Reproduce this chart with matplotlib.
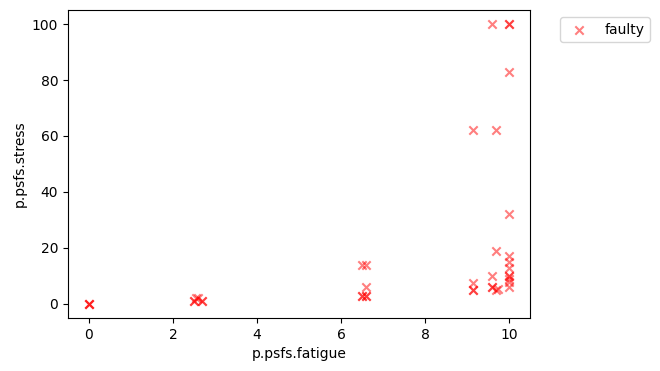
import matplotlib
matplotlib.use('Agg')
import matplotlib.pyplot as plt

# faulty runs: fatigue vs stress
fatigue = [0, 0, 0,
           2.5, 2.5, 2.7, 2.7, 2.6, 2.55,
           6.5, 6.6, 6.6, 6.5, 6.5, 6.6, 6.6,
           9.15, 9.15, 9.15, 9.15,
           9.6, 9.6, 9.6, 9.6,
           9.7, 9.7, 9.7, 9.75,
           10, 10, 10, 10, 10, 10, 10, 10, 10, 10, 10, 10]
stress = [0, 0, 0,
          1, 1, 1, 1, 2, 2,
          14, 14, 6, 3, 3, 3, 3,
          62, 7.5, 5, 5,
          100, 10, 6, 6,
          62, 19, 5, 5.5,
          100, 100, 83, 32, 17, 15, 13, 10, 10, 9, 8, 6]

fig, ax = plt.subplots(figsize=(6.6, 3.71), dpi=100)
fig.subplots_adjust(left=0.103, right=0.803, top=0.973, bottom=0.143)

ax.scatter(fatigue, stress, marker='x', c='red', alpha=0.5, label='faulty')
ax.set_xlabel('p.psfs.fatigue')
ax.set_ylabel('p.psfs.stress')
ax.legend(bbox_to_anchor=(1.05, 1), loc='upper left')

plt.savefig('out.png')
